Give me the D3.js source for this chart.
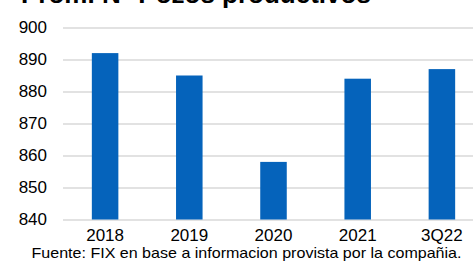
<!DOCTYPE html>
<html>
<head>
<meta charset="utf-8">
<script src="https://cdn.jsdelivr.net/npm/d3@7"></script>
<style>
  body { margin: 0; background: #fff; }
  svg { display: block; font-family: "Liberation Sans", Arial, sans-serif; }
</style>
</head>
<body>
<div id="chart"></div>
<script>
// data
const categories = ["2018", "2019", "2020", "2021", "3Q22"];
const pozos = [892, 885, 858, 884, 887];
const yTicks = [840, 850, 860, 870, 880, 890, 900];
const titleText = "Prom. N° Pozos productivos";
const sourceText = "Fuente: FIX en base a informacion provista por la compañia.";

const width = 473, height = 269;
const margin = { top: 27.5, right: -11, bottom: 50, left: 63 };

const svg = d3.select("#chart")
  .append("svg")
  .attr("width", width)
  .attr("height", height);

let xScale = d3.scaleBand()
  .domain(categories)
  .range([margin.left, width - margin.right])
  .paddingInner(0.685)
  .paddingOuter(0.3425);

let yScale = d3.scaleLinear()
  .domain([840, 900])
  .range([height - margin.bottom + 0.5, margin.top]);

// gridlines + y labels
const yAxis = svg.append("g")
  .attr("transform", `translate(${margin.left}, 0)`)
  .call(d3.axisLeft(yScale)
    .tickValues(yTicks)
    .tickSize(-(width - margin.left))
    .tickPadding(16));
yAxis.select(".domain").remove();
yAxis.selectAll("line").attr("stroke", "#d9d9d9").attr("stroke-width", 1.5);
yAxis.selectAll("text")
  .attr("font-size", "17px")
  .attr("fill", "#000")
  .attr("font-family", "Liberation Sans, Arial, sans-serif");

// bars
svg.selectAll("rect.bar")
  .data(pozos)
  .enter()
  .append("rect")
  .attr("class", "bar")
  .attr("x", (d, i) => xScale(categories[i]))
  .attr("width", xScale.bandwidth())
  .attr("y", (d) => yScale(d))
  .attr("height", (d) => yScale(840) - yScale(d))
  .attr("fill", "#0563BB");

// x labels
const xAxis = svg.append("g")
  .attr("transform", `translate(0, ${height - margin.bottom})`)
  .call(d3.axisBottom(xScale).tickSize(0).tickPadding(10));
xAxis.select(".domain").remove();
xAxis.selectAll("text")
  .attr("font-size", "17px")
  .attr("fill", "#000")
  .attr("font-family", "Liberation Sans, Arial, sans-serif");

// title (clipped at the top in the original)
svg.append("text")
  .attr("x", 21)
  .attr("y", 3)
  .attr("font-size", "26px")
  .attr("font-weight", "bold")
  .text(titleText);

// source note
svg.append("text")
  .attr("x", 246.5)
  .attr("y", 258)
  .attr("text-anchor", "middle")
  .attr("font-size", "15px")
  .attr("textLength", 430)
  .attr("lengthAdjust", "spacingAndGlyphs")
  .text(sourceText);
</script>
</body>
</html>
